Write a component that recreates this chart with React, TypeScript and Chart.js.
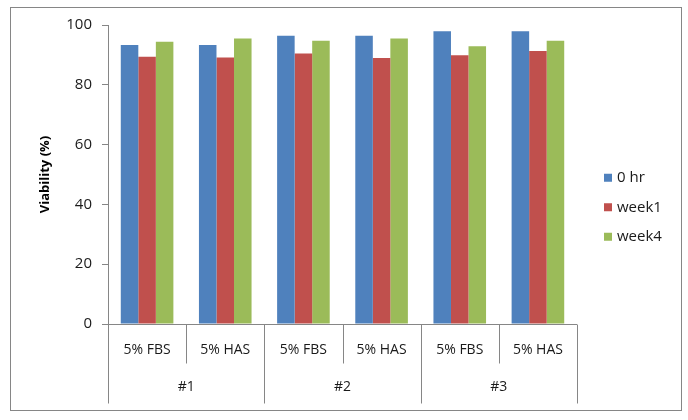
import React, { useEffect, useRef } from "react";
import { Chart, registerables } from "chart.js";

Chart.register(...registerables);

const categories = ["5% FBS", "5% HAS", "5% FBS", "5% HAS", "5% FBS", "5% HAS"];
const groups = ["#1", "#2", "#3"];
const seriesNames = ["0 hr", "week1", "week4"];
const hr0 = [93.3, 93.3, 96.4, 96.4, 97.9, 97.9];
const week1 = [89.4, 89.1, 90.5, 89.0, 89.9, 91.3];
const week4 = [94.4, 95.5, 94.7, 95.5, 92.9, 94.7];
const colors = ["#4F81BD", "#C0504D", "#9BBB59"];
const yTitle = "Viability (%)";

const FONT = "'Open Sans', Lato, sans-serif";
const AXIS = "#868686";
const TEXT = "#1a1a1a";

const decorPlugin = {
  id: "decor",
  beforeDraw(chart: any) {
    const ctx = chart.ctx;
    ctx.save();
    ctx.fillStyle = "#ffffff";
    ctx.fillRect(0, 0, chart.width, chart.height);
    ctx.strokeStyle = AXIS;
    ctx.lineWidth = 1;
    ctx.strokeRect(10.5, 7.5, 671, 403);
    ctx.restore();
  },
  afterDraw(chart: any) {
    const ctx = chart.ctx;
    const x = chart.scales.x;
    const area = chart.chartArea;
    const y0 = Math.round(area.bottom) + 0.5;
    ctx.save();
    ctx.strokeStyle = AXIS;
    ctx.lineWidth = 1;
    ctx.beginPath();
    ctx.moveTo(area.left, y0);
    ctx.lineTo(area.right, y0);
    ctx.stroke();
    const n = categories.length;
    for (let i = 0; i <= n; i++) {
      const px = Math.round(x.getPixelForValue(i - 0.5)) + 0.5;
      const len = i % 2 === 0 ? 79 : 39;
      ctx.beginPath();
      ctx.moveTo(px, y0);
      ctx.lineTo(px, y0 + len);
      ctx.stroke();
    }
    ctx.fillStyle = TEXT;
    ctx.font = `14px ${FONT}`;
    ctx.textAlign = "center";
    ctx.textBaseline = "middle";
    categories.forEach((c, i) => {
      ctx.fillText(c, x.getPixelForValue(i), y0 + 26);
    });
    groups.forEach((g, gi) => {
      const px = x.getPixelForValue(gi * 2 + 0.5);
      ctx.fillText(g, px, y0 + 63);
    });
    const lx = area.right + 27;
    const cy = (area.top + area.bottom) / 2;
    const step = 29.5;
    ctx.textAlign = "left";
    ctx.font = `15px ${FONT}`;
    chart.data.datasets.forEach((ds: any, i: number) => {
      const yc = cy + (i - 0.5) * step + 18;
      ctx.fillStyle = ds.backgroundColor;
      ctx.fillRect(lx, yc - 4, 8, 8);
      ctx.fillStyle = TEXT;
      ctx.fillText(ds.label, lx + 13, yc);
    });
    ctx.restore();
  },
};

export default function App() {
  const ref = useRef<HTMLCanvasElement | null>(null);
  useEffect(() => {
    document.body.style.margin = "0";
    if (!ref.current) return;
    const chart = new Chart(ref.current, {
      type: "bar",
      data: {
        labels: categories,
        datasets: [hr0, week1, week4].map((d, i) => ({
          label: seriesNames[i],
          data: d,
          backgroundColor: colors[i],
          borderWidth: 0,
          categoryPercentage: 0.673,
          barPercentage: 1.0,
        })),
      },
      options: {
        responsive: false,
        animation: false,
        layout: { padding: { top: 25, right: 111, bottom: 0, left: 0 } },
        plugins: {
          legend: { display: false },
          tooltip: { enabled: false },
        },
        scales: {
          x: {
            type: "category",
            offset: true,
            grid: { display: false },
            border: { display: false },
            ticks: { display: false },
            afterFit: (s: any) => {
              s.height = 96;
            },
          },
          y: {
            min: 0,
            max: 100,
            ticks: {
              stepSize: 20,
              color: TEXT,
              padding: 10,
              font: { family: FONT, size: 15 },
            },
            grid: {
              drawOnChartArea: false,
              drawTicks: true,
              tickLength: 6,
              color: AXIS,
            },
            border: { display: true, color: AXIS },
            title: {
              display: true,
              text: yTitle,
              color: "#000000",
              font: { family: FONT, size: 13, weight: "bold" },
              padding: { top: 37, bottom: 0 },
            },
            afterFit: (s: any) => {
              s.width = 108;
            },
          },
        },
      },
      plugins: [decorPlugin],
    });
    return () => chart.destroy();
  }, []);
  return (
    <div style={{ width: 688, height: 420 }}>
      <canvas ref={ref} width={688} height={420} style={{ display: "block" }} />
    </div>
  );
}
